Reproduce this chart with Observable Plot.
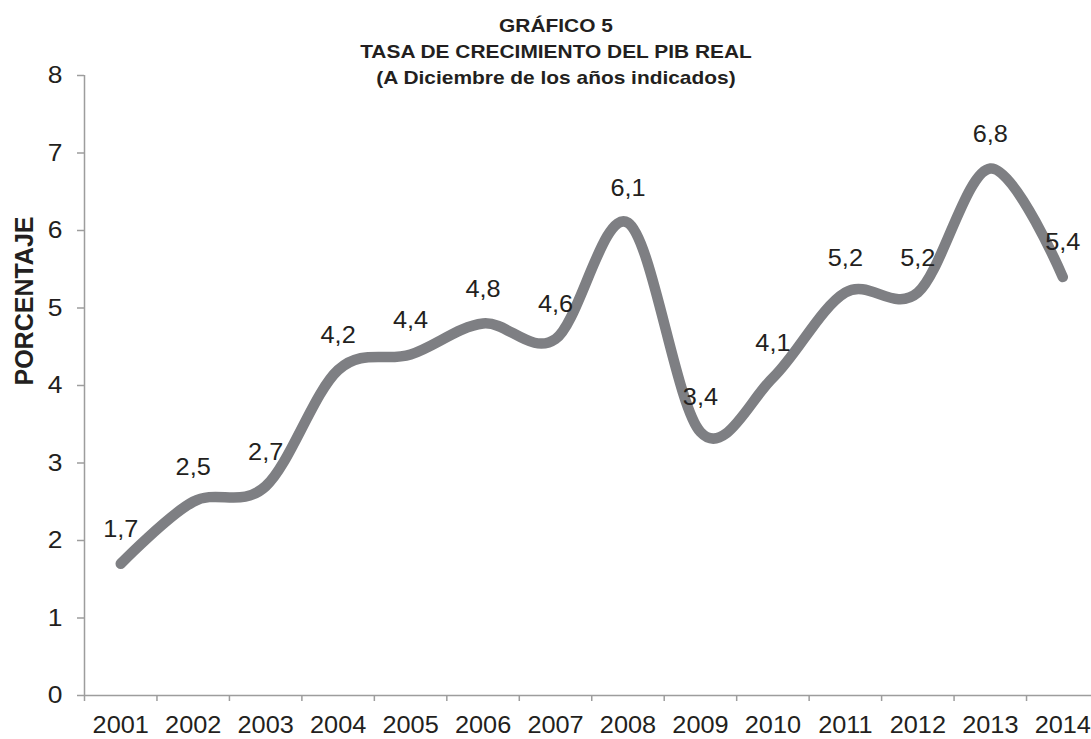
<!DOCTYPE html>
<html>
<head>
<meta charset="utf-8">
<script src="https://cdn.jsdelivr.net/npm/d3@7"></script>
<script src="https://cdn.jsdelivr.net/npm/@observablehq/plot@0.6"></script>
<style>
  html, body { margin: 0; padding: 0; background: #fff; overflow: hidden; }
  #wrap { position: relative; width: 1091px; height: 739px; }
  #title {
    position: absolute; top: 13px; left: 556px;
    transform: translateX(-50%) scaleX(1.1);
    font-family: "Liberation Sans", Arial, sans-serif;
    font-weight: bold; font-size: 19px; line-height: 26px;
    color: #231f20; text-align: center; white-space: nowrap; z-index: 2;
  }
  svg text { font-family: "Liberation Sans", Arial, sans-serif; }
</style>
</head>
<body>
<div id="wrap">
  <div id="title"></div>
</div>
<script>
const titleLines = ["GRÁFICO 5", "TASA DE CRECIMIENTO DEL PIB REAL", "(A Diciembre de los años indicados)"];
const yAxisLabel = "PORCENTAJE";
const years = [2001, 2002, 2003, 2004, 2005, 2006, 2007, 2008, 2009, 2010, 2011, 2012, 2013, 2014];
const growth = [1.7, 2.5, 2.7, 4.2, 4.4, 4.8, 4.6, 6.1, 3.4, 4.1, 5.2, 5.2, 6.8, 5.4];
const yTicks = [0, 1, 2, 3, 4, 5, 6, 7, 8];

const data = years.map((year, i) => ({year, value: growth[i]}));
const fmt = v => v.toFixed(1).replace(".", ",");

document.getElementById("title").innerHTML = titleLines.join("<br>");

const axisGray = "#9d9d9d";
const textColor = "#231f20";

const chart = Plot.plot({
  width: 1091,
  height: 739,
  marginLeft: 84,
  marginRight: 0,
  marginTop: 75,
  marginBottom: 44,
  style: {background: "transparent", color: textColor, fontSize: "24px"},
  x: {domain: [years[0] - 0.5, years[years.length - 1] + 0.5], range: [84, 1098.5]},
  y: {domain: [yTicks[0], yTicks[yTicks.length - 1]]},
  marks: [
    Plot.ruleY([0], {stroke: axisGray, strokeWidth: 1.5}),
    Plot.ruleX([years[0] - 0.5], {stroke: axisGray, strokeWidth: 1.5}),
    Plot.axisY({ticks: yTicks, tickSize: 7, tickPadding: 15, stroke: axisGray, strokeWidth: 1.5, fill: textColor, fontSize: 24, label: null}),
    Plot.axisX({ticks: years.map(y => y - 0.5), tickSize: 6, stroke: axisGray, strokeWidth: 1.5, tickFormat: () => "", label: null}),
    Plot.axisX({ticks: years, tickSize: 0, tickPadding: 21, fill: textColor, fontSize: 23, tickFormat: d => String(d), label: null}),
    Plot.text([yAxisLabel], {frameAnchor: "left", rotate: -90, dx: -60, fontSize: 25, fontWeight: "bold", fill: textColor}),
    Plot.line(data, {x: "year", y: "value", curve: "cardinal", stroke: "#7e7f83", strokeWidth: 10.5, strokeLinecap: "round", strokeLinejoin: "round"}),
    Plot.text(data, {x: "year", y: "value", text: d => fmt(d.value), dy: -34, fontSize: 23, fill: textColor})
  ]
});

document.getElementById("wrap").appendChild(chart);

// horizontal stretch of the original lettering
d3.select(chart).selectAll("text").each(function() {
  const t = this;
  if ((t.getAttribute("transform") || "").includes("rotate")) return;
  const L = t.getComputedTextLength();
  if (L > 0) {
    t.setAttribute("textLength", (L * 1.1).toFixed(2));
    t.setAttribute("lengthAdjust", "spacingAndGlyphs");
  }
});
</script>
</body>
</html>
